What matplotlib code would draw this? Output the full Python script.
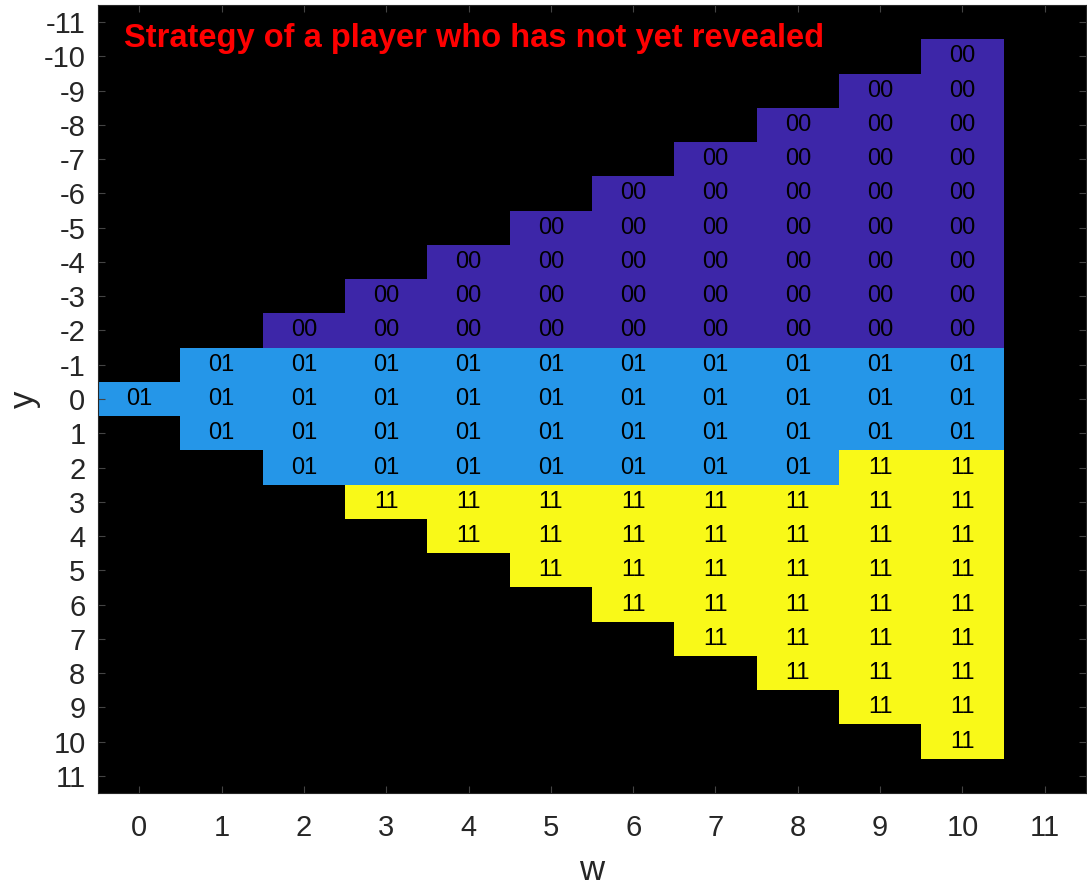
import numpy as np
import matplotlib
matplotlib.use("Agg")
import matplotlib.pyplot as plt
from matplotlib.colors import ListedColormap, BoundaryNorm

plt.rcParams["font.family"] = ["Liberation Sans", "DejaVu Sans"]
plt.rcParams["axes.unicode_minus"] = False

# columns w, and for each column the range of y and the last y of each strategy band
w_vals = [0, 1, 2, 3, 4, 5, 6, 7, 8, 9, 10]
y_low = [0, -1, -2, -3, -4, -5, -6, -7, -8, -9, -10]
y_high = [0, 1, 2, 3, 4, 5, 6, 7, 8, 9, 10]
last_00 = [-2, -2, -2, -2, -2, -2, -2, -2, -2, -2, -2]   # "00" for y <= this
last_01 = [1, 1, 2, 2, 2, 2, 2, 2, 2, 1, 1]              # "01" up to this, "11" after
labels = ["00", "01", "11"]
band_colors = ["#3D26A8", "#2596E8", "#F9F918"]

x_ticks = list(range(0, 12))
y_ticks = list(range(-11, 12))

grid = np.full((len(y_ticks), len(x_ticks)), np.nan)
for i, w in enumerate(w_vals):
    for y in range(y_low[i], y_high[i] + 1):
        if y <= last_00[i]:
            k = 0
        elif y <= last_01[i]:
            k = 1
        else:
            k = 2
        grid[y - y_ticks[0], w - x_ticks[0]] = k

fig = plt.figure(figsize=(10.87, 8.89), dpi=100)
ax = fig.add_axes([98 / 1087, 1 - 793 / 889, 988 / 1087, 788 / 889])
ax.set_facecolor("black")

cmap = ListedColormap(band_colors)
norm = BoundaryNorm([-0.5, 0.5, 1.5, 2.5], cmap.N)
xe = np.arange(x_ticks[0] - 0.5, x_ticks[-1] + 1.5)
ye = np.arange(y_ticks[0] - 0.5, y_ticks[-1] + 1.5)
ax.pcolormesh(xe, ye, np.ma.masked_invalid(grid), cmap=cmap, norm=norm)

for r, y in enumerate(y_ticks):
    for c, w in enumerate(x_ticks):
        v = grid[r, c]
        if not np.isnan(v):
            ax.text(w, y, labels[int(v)], ha="center", va="center",
                    fontsize=17, color="black")

ax.set_xlim(xe[0], xe[-1])
ax.set_ylim(ye[-1], ye[0])
ax.set_xticks(x_ticks)
ax.set_yticks(y_ticks)
ax.tick_params(direction="in", length=5, width=0.8, color="#444444",
               labelsize=21, labelcolor="#262626", top=True, right=True)
ax.tick_params(axis="x", pad=15)
ax.tick_params(axis="y", pad=9)
for s in ax.spines.values():
    s.set_edgecolor("#262626")
    s.set_linewidth(0.8)

ax.set_xlabel("w", fontsize=25, color="#262626", labelpad=9)
ax.set_ylabel("y", fontsize=25, color="#262626", labelpad=2)

ax.text(0.026, 0.958, "Strategy of a player who has not yet revealed",
        transform=ax.transAxes, ha="left", va="center", color="red",
        fontsize=23.5, fontweight="bold")

fig.savefig("out.png", dpi=100)
